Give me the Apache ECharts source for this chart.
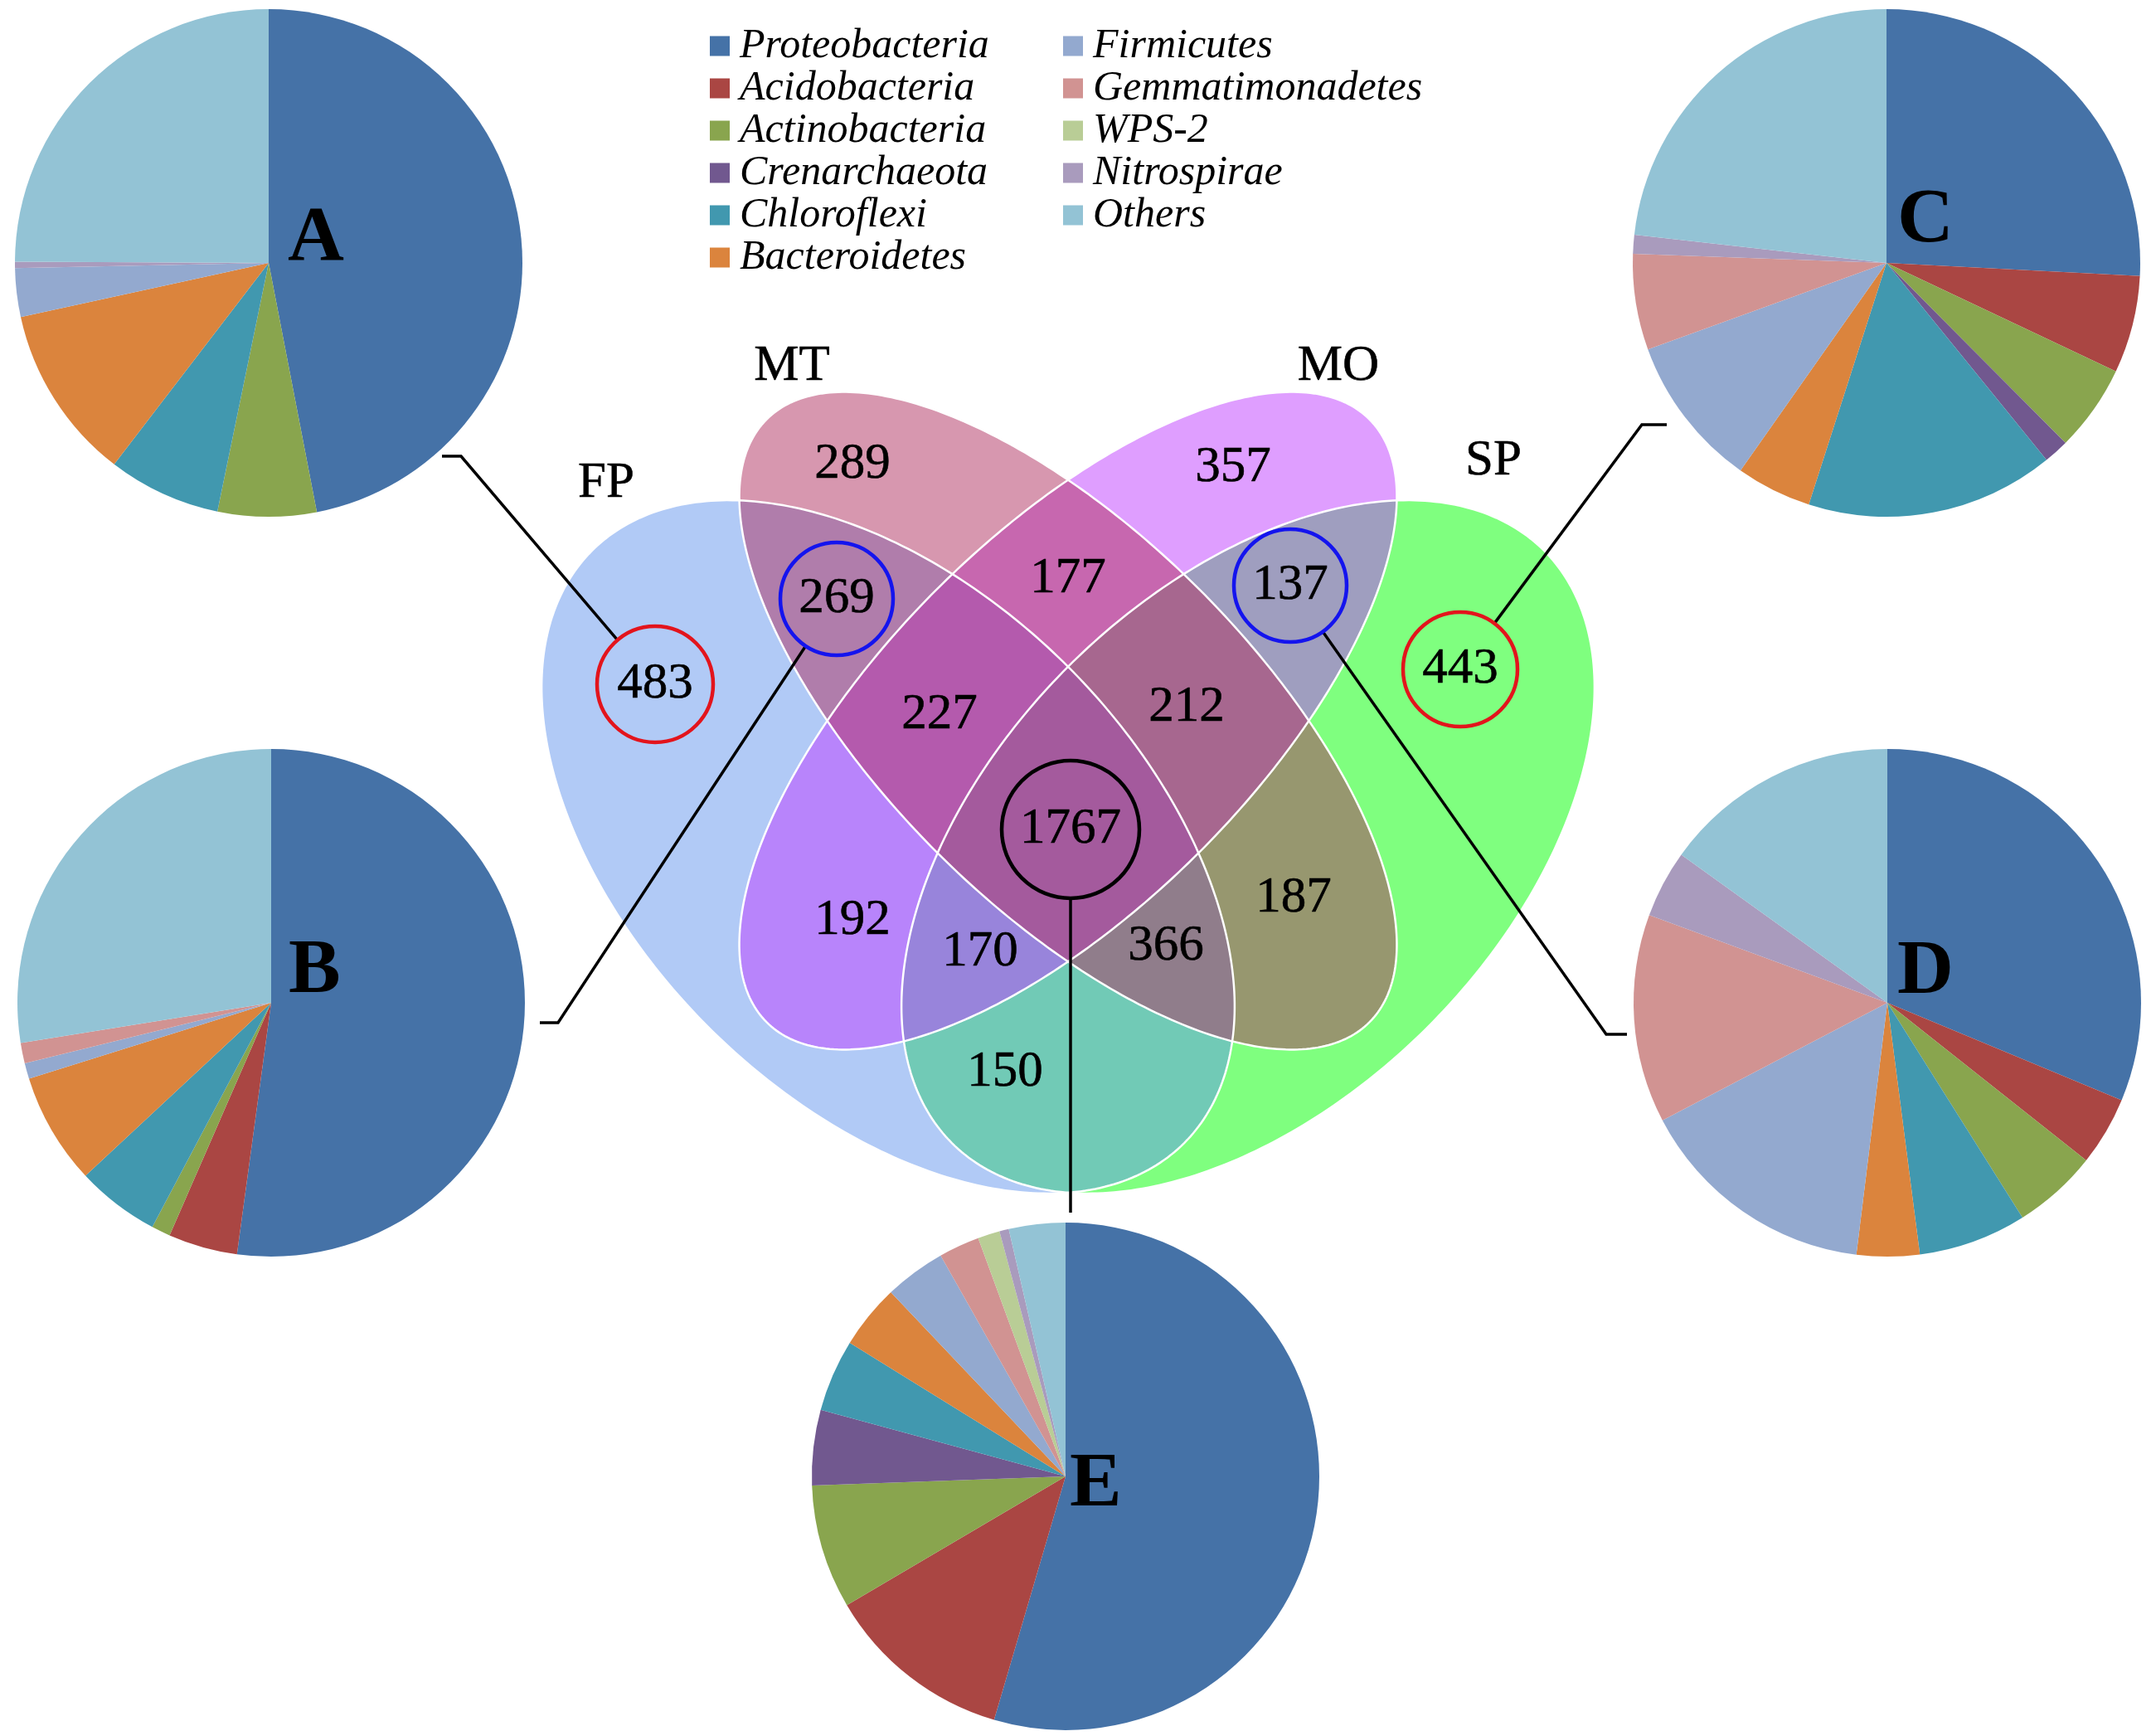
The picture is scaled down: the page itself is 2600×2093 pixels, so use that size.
<!DOCTYPE html>
<html><head><meta charset="utf-8">
<script src="https://cdn.jsdelivr.net/npm/echarts@6/dist/echarts.min.js"></script>
<style>html,body{margin:0;padding:0;background:#fff}#c{width:2600px;height:2093px}</style>
</head><body><div id="c"></div>
<script>
// ---------------- data ----------------
const phyla = ['Proteobacteria','Acidobacteria','Actinobacteria','Crenarchaeota','Chloroflexi','Bacteroidetes','Firmicutes','Gemmatimonadetes','WPS-2','Nitrospirae','Others'];
const pieNames = ['A','B','C','D','E'];
const pieA = [47.1, 0.0, 6.3, 0.0, 7.2, 11.2, 3.1, 0.0, 0.0, 0.4, 25.0];
const pieB = [52.1, 4.4, 1.2, 0.0, 5.3, 7.1, 1.0, 1.3, 0.0, 0.0, 27.5];
const pieC = [25.8, 6.2, 5.5, 1.6, 15.8, 4.8, 9.7, 6.1, 0.0, 1.2, 23.2];
const pieD = [31.3, 4.4, 5.4, 0.0, 6.9, 4.0, 15.4, 13.3, 0.0, 4.3, 15.1];
const pieE = [54.6, 12.0, 7.9, 4.8, 4.6, 4.1, 3.9, 2.6, 1.4, 0.6, 3.6];
const pieValues = [pieA, pieB, pieC, pieD, pieE];

const vennSets = ['FP','MT','MO','SP'];
const vennRegions = ['FP','MT','MO','SP','FP∩MT','MO∩SP','MT∩MO','FP∩MT∩MO','MT∩MO∩SP','FP∩MT∩MO∩SP','FP∩MO','FP∩MO∩SP','FP∩MT∩SP','MT∩SP','FP∩SP'];
const vennCounts = [483, 289, 357, 443, 269, 137, 177, 227, 212, 1767, 192, 170, 366, 187, 150];

// ---------------- layout / style ----------------
const phylumColors = ['#4572A7','#AA4643','#89A54E','#71588F','#4198AF','#DB843D','#93A9CF','#D19392','#B9CD96','#A99BBD','#93C3D5'];
const pieLayout = [
  {center:[324,317],  letter:[347,289]},
  {center:[327,1209], letter:[348,1172]},
  {center:[2275,317], letter:[2288,267]},
  {center:[2276,1209],letter:[2288,1173]},
  {center:[1285,1780],letter:[1290,1791]}
];
const pieRadius = 306;

// venn geometry in venn units (y up), ellipse: cx, cy, a, b, rotation deg
const vennEllipse = {
  FP: {cx:-2.17, cy:-0.21, a:5.05, b:3.07, rot:-45, color:'rgba(100,149,237,0.5)'},
  SP: {cx: 2.17, cy:-0.21, a:5.05, b:3.07, rot: 45, color:'rgba(0,255,0,0.5)'},
  MT: {cx: 0.00, cy: 1.31, a:5.14, b:2.24, rot:-45, color:'rgba(176,48,96,0.5)'},
  MO: {cx: 0.00, cy: 1.31, a:5.14, b:2.24, rot: 45, color:'rgba(191,62,255,0.5)'}
};
const drawOrder = ['SP','FP','MO','MT'];
const regionLabelPos = [[-4.98,1.75],[-2.60,4.40],[1.99,4.36],[4.73,1.93],[-2.79,2.78],[2.68,2.94],[0,3.02],[-1.55,1.38],[1.43,1.47],[0.03,0],[-2.60,-1.10],[-1.06,-1.48],[1.18,-1.41],[2.72,-0.83],[-0.76,-2.93]];
const setLabelPos = [[-5.57,4.17],[-3.33,5.58],[3.26,5.58],[5.13,4.44]];
const highlight = {
  'FP': {color:'#e3141c', r:70},
  'SP': {color:'#e3141c', r:69},
  'FP∩MT': {color:'#1414ee', r:68},
  'MO∩SP': {color:'#1414ee', r:68},
  'FP∩MT∩MO∩SP': {color:'#000000', r:83}
};
// connectors: pie-side end, corner, target region
const connectors = [
  {end:[533,550],  corner:[556,550],  target:'FP'},
  {end:[651,1233], corner:[673,1233], target:'FP∩MT'},
  {end:[2010,512], corner:[1980,512], target:'SP'},
  {end:[1962,1247],corner:[1937,1247],target:'MO∩SP'},
  {end:[1291,1462],corner:[1291,1462],target:'FP∩MT∩MO∩SP'}
];
const serif = '"Liberation Serif", "Times New Roman", serif';

// ---------------- chart ----------------
const chart = echarts.init(document.getElementById('c'));

function ellipsePoints(e, api){
  const pts = [];
  const phi = e.rot * Math.PI / 180;
  for (let k = 0; k < 360; k++){
    const t = k / 360 * Math.PI * 2;
    const x = e.cx + e.a*Math.cos(t)*Math.cos(phi) - e.b*Math.sin(t)*Math.sin(phi);
    const y = e.cy + e.a*Math.cos(t)*Math.sin(phi) + e.b*Math.sin(t)*Math.cos(phi);
    pts.push(api.coord([x, y]));
  }
  return pts;
}

const numLabel = {show:true, position:'inside', formatter:'{b}', fontFamily: serif, fontSize:61, color:'#000', textBorderColor:'#000', textBorderWidth:0.6, opacity:1};

const series = [];
pieValues.forEach((vals, i) => {
  series.push({
    type:'pie', name: pieNames[i], center: pieLayout[i].center, radius: pieRadius,
    startAngle: 90, clockwise: true, silent: true, color: phylumColors,
    label:{show:false}, labelLine:{show:false}, itemStyle:{borderWidth:0},
    data: phyla.map((n, j) => ({name: n, value: vals[j]}))
  });
});
series.push({
  type:'custom', coordinateSystem:'cartesian2d', silent:true, z:1,
  data: drawOrder.map((s, i) => [i, 0]),
  renderItem: (params, api) => {
    const e = vennEllipse[drawOrder[api.value(0)]];
    return {type:'polygon', shape:{points: ellipsePoints(e, api)}, style:{fill: e.color, stroke: null}};
  }
});
series.push({
  type:'custom', coordinateSystem:'cartesian2d', silent:true, z:2,
  data: vennSets.map((s, i) => [i, 0]),
  renderItem: (params, api) => {
    const e = vennEllipse[vennSets[api.value(0)]];
    return {type:'polygon', shape:{points: ellipsePoints(e, api)}, style:{fill: 'none', stroke:'#ffffff', lineWidth:2.5}};
  }
});
series.push({
  type:'scatter', silent:true, z:4, itemStyle:{opacity:1},
  data: vennRegions.map((r, i) => {
    const h = highlight[r];
    return {
      name: String(vennCounts[i]), value: regionLabelPos[i],
      symbol:'circle', symbolSize: h ? 2*h.r : 0,
      itemStyle: h ? {color:'rgba(0,0,0,0)', borderColor:h.color, borderWidth:4.5, opacity:1} : {color:'rgba(0,0,0,0)', opacity:1}
    };
  }),
  label: numLabel
});
series.push({
  type:'scatter', silent:true, z:4, symbolSize:0, itemStyle:{opacity:1},
  data: vennSets.map((s, i) => ({name:s, value:setLabelPos[i]})),
  label: numLabel
});

const legendCommon = {
  orient:'vertical', padding:0, itemGap:0, itemWidth:24, itemHeight:24, icon:'rect',
  selectedMode:false,
  textStyle:{fontFamily: serif, fontStyle:'italic', fontSize:50, lineHeight:51, color:'#000', padding:[0,0,0,7]}
};

chart.setOption({
  animation:false,
  backgroundColor:'#ffffff',
  grid:{left:588, top:400, width:1400, height:1100},
  xAxis:{type:'value', min:-7, max:7, show:false},
  yAxis:{type:'value', min:-5, max:6, show:false},
  legend:[
    Object.assign({}, legendCommon, {left:856, top:30, data: phyla.slice(0,6)}),
    Object.assign({}, legendCommon, {left:1282, top:30, data: phyla.slice(6)})
  ],
  series: series
});

// annotations: pie letters and connector lines
const graphics = [];
pieNames.forEach((n, i) => {
  graphics.push({
    type:'text', z:10, silent:true,
    style:{text:n, x: pieLayout[i].letter[0], y: pieLayout[i].letter[1],
      font:'bold 94px ' + serif, fill:'#000',
      align:'left', verticalAlign:'middle', textAlign:'left', textVerticalAlign:'middle'}
  });
});
connectors.forEach(c => {
  const idx = vennRegions.indexOf(c.target);
  const ctr = chart.convertToPixel({gridIndex:0}, regionLabelPos[idx]);
  const r = highlight[c.target].r;
  const dx = c.corner[0] - ctr[0], dy = c.corner[1] - ctr[1];
  const d = Math.sqrt(dx*dx + dy*dy);
  const p = [ctr[0] + dx/d*r, ctr[1] + dy/d*r];
  graphics.push({
    type:'polyline', z:3, silent:true,
    shape:{points:[c.end, c.corner, p]},
    style:{stroke:'#000', lineWidth:3.5, fill:null}
  });
});
chart.setOption({graphic: graphics});
</script>
</body></html>
